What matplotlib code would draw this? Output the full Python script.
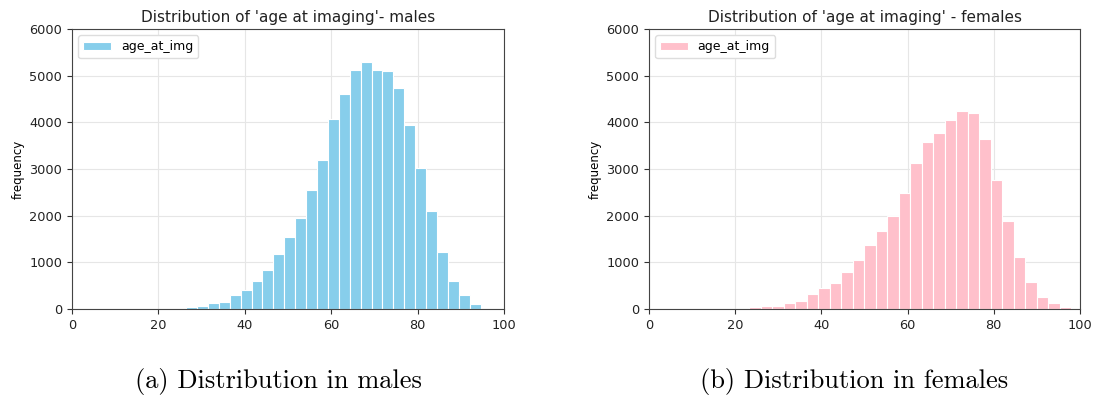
import numpy as np
import matplotlib
matplotlib.use("Agg")
import matplotlib.pyplot as plt

# histogram counts (bin edges from data min/max)
male_edges = np.linspace(26.4, 94.6, 28)
male_counts = [40, 70, 120, 150, 290, 400, 590, 845, 1170, 1540, 1945, 2555,
               3190, 4075, 4600, 5120, 5295, 5120, 5095, 4735, 3935, 3020,
               2110, 1230, 595, 295, 100]

female_edges = np.linspace(23.3, 98.0, 29)
female_counts = [35, 65, 70, 120, 170, 315, 460, 565, 785, 1060, 1365, 1675,
                 1995, 2495, 3135, 3575, 3770, 4050, 4240, 4205, 3650, 2770,
                 1890, 1115, 585, 265, 120, 35]

titles = ["Distribution of 'age at imaging'- males",
          "Distribution of 'age at imaging' - females"]
captions = ["(a) Distribution in males", "(b) Distribution in females"]
colors = ["skyblue", "pink"]

fig = plt.figure(figsize=(10.97, 3.96), dpi=100)
ax1 = fig.add_axes([72 / 1097, 1 - 309 / 396, 432 / 1097, 280 / 396])
ax2 = fig.add_axes([649 / 1097, 1 - 309 / 396, 431 / 1097, 280 / 396])

data = [(male_edges, male_counts), (female_edges, female_counts)]
for ax, (edges, counts), title, col in zip([ax1, ax2], data, titles, colors):
    ax.hist(edges[:-1], bins=edges, weights=counts, color=col,
            edgecolor="white", linewidth=0.8, label="age_at_img")
    ax.set_xlim(0, 100)
    ax.set_ylim(0, 6000)
    ax.set_xticks([0, 20, 40, 60, 80, 100])
    ax.set_yticks(range(0, 6001, 1000))
    ax.grid(True, color="#e6e6e6", linewidth=0.8)
    ax.set_axisbelow(True)
    ax.tick_params(labelsize=9.3, colors="#333333", labelcolor="#222222", length=3.5)
    for s in ax.spines.values():
        s.set_color("#444444")
    ax.set_title(title, fontsize=11, pad=5, color="#222222")
    ax.set_ylabel("frequency", fontsize=8.5, labelpad=3)
    ax.legend(loc="upper left", fontsize=9, fancybox=True, framealpha=1,
              edgecolor="#dddddd", handlelength=2.2)

for xc, cap in zip([278 / 1097, 854 / 1097], captions):
    fig.text(xc, 1 - 388 / 396, cap, ha="center", va="baseline", fontsize=19,
             family=["cmr10", "DejaVu Serif"])

fig.savefig("out.png", dpi=100)
